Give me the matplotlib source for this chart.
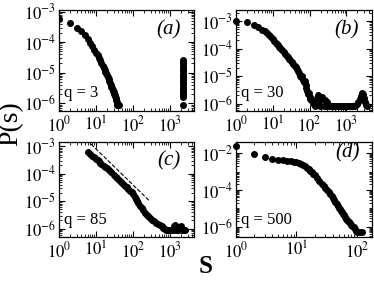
import numpy as np
import matplotlib
matplotlib.use('Agg')
import matplotlib.pyplot as plt
from matplotlib.ticker import FixedLocator, LogLocator, NullFormatter, FuncFormatter

plt.rcParams['font.family'] = 'serif'
plt.rcParams['font.serif'] = ['Liberation Serif', 'DejaVu Serif']
plt.rcParams['mathtext.fontset'] = 'stix'

# panel (a), q = 3
a_s = [1, 2, 3, 4, 5, 6, 7, 8, 9, 10, 11, 12, 13, 14, 15, 16, 17, 18, 19, 20,
       21, 22, 23, 24, 25, 26, 27, 28, 29, 30, 31, 32, 33, 34, 35, 36, 37, 38, 40, 42]
a_p = [5.5e-4, 4.1e-4, 3.0e-4, 2.25e-4, 1.7e-4, 1.25e-4, 9.3e-5, 7.2e-5, 5.7e-5, 4.5e-5,
       3.7e-5, 3.0e-5, 2.5e-5, 2.05e-5, 1.7e-5, 1.45e-5, 1.25e-5, 1.08e-5, 9.4e-6, 8.3e-6,
       7.4e-6, 6.4e-6, 5.5e-6, 4.7e-6, 4.0e-6, 3.5e-6, 3.1e-6, 2.8e-6, 2.5e-6, 2.25e-6,
       2.05e-6, 1.9e-6, 1.7e-6, 1.5e-6, 1.3e-6, 1.1e-6, 9.6e-7, 8.5e-7, 8.5e-7, 8.5e-7]
a_col_s = 2240
a_col_p = [2.6e-5, 2.2e-5, 1.85e-5, 1.55e-5, 1.3e-5, 1.1e-5, 9.3e-6, 7.9e-6, 6.7e-6, 5.7e-6,
           4.8e-6, 4.1e-6, 3.5e-6, 3.0e-6, 2.5e-6, 2.1e-6, 1.8e-6, 1.6e-6, 9e-7]

# panel (b), q = 30
b_s = [1, 2, 3, 4, 5, 6, 7, 8, 9, 10, 11, 12, 13, 14, 15, 16, 18, 20, 22, 24, 26, 28, 30,
       33, 36, 39, 42, 45, 48, 52, 56, 60, 63, 66, 70, 74, 78, 82, 86, 90, 95, 100, 105, 110,
       120, 130, 140, 155, 165, 175, 190, 205, 220, 240, 260, 280, 300, 330, 370, 410, 460,
       510, 570, 640, 710, 800, 890, 1000, 1120, 1250, 1400, 1550, 1700, 1900, 2100, 2300,
       2500, 2700, 2850, 3000, 3200, 3400, 3600]
b_p = [1.0e-3, 9.0e-4, 7.3e-4, 5.9e-4, 4.9e-4, 4.2e-4, 3.6e-4, 3.1e-4, 2.6e-4, 2.2e-4,
       1.9e-4, 1.65e-4, 1.45e-4, 1.3e-4, 1.15e-4, 1.05e-4, 8.8e-5, 7.5e-5, 6.6e-5, 5.6e-5,
       4.9e-5, 4.3e-5, 3.8e-5, 3.2e-5, 2.7e-5, 2.35e-5, 2.1e-5, 1.8e-5, 1.5e-5, 1.25e-5,
       1.0e-5, 9.0e-6, 1.05e-5, 7.5e-6, 6.0e-6, 6.5e-6, 4.6e-6, 3.6e-6, 3.0e-6, 2.3e-6,
       2.4e-6, 1.8e-6, 1.5e-6, 1.35e-6, 1.1e-6, 9.5e-7, 8.5e-7, 1.6e-6, 2.0e-6, 1.3e-6,
       8.5e-7, 1.6e-6, 1.8e-6, 8.5e-7, 1.4e-6, 8.5e-7, 1.2e-6, 8.5e-7, 8.5e-7, 8.5e-7,
       8.5e-7, 8.5e-7, 8.5e-7, 8.5e-7, 8.5e-7, 8.5e-7, 8.5e-7, 8.5e-7, 8.5e-7, 8.5e-7,
       8.5e-7, 8.5e-7, 8.5e-7, 1.0e-6, 1.2e-6, 1.5e-6, 1.9e-6, 2.4e-6, 2.2e-6, 1.6e-6,
       1.2e-6, 9e-7, 8.5e-7]

# panel (c), q = 85
c_s = [6, 7, 8, 9, 10, 11, 12, 13, 14, 16, 18, 20, 23, 26, 30, 34, 38, 43, 48, 54, 60, 67,
       75, 83, 92, 101, 110, 120, 130, 140, 155, 170, 190, 210, 235, 260, 290, 330, 370, 420,
       470, 530, 600, 660, 730, 800, 880, 970, 1070, 1180, 1300, 1400, 1500, 1650, 1800,
       1950, 2100, 2300, 2500]
c_p = [6.3e-4, 5.2e-4, 4.5e-4, 3.95e-4, 3.5e-4, 3.1e-4, 2.8e-4, 2.5e-4, 2.3e-4, 1.95e-4,
       1.75e-4, 1.6e-4, 1.32e-4, 1.12e-4, 9.3e-5, 7.9e-5, 6.8e-5, 5.8e-5, 4.9e-5, 4.2e-5,
       3.7e-5, 3.2e-5, 2.8e-5, 2.4e-5, 2.1e-5, 1.8e-5, 1.45e-5, 1.2e-5, 1.0e-5, 8.3e-6,
       6.8e-6, 5.7e-6, 4.6e-6, 3.8e-6, 3.2e-6, 2.8e-6, 2.5e-6, 2.1e-6, 1.85e-6, 1.65e-6,
       1.5e-6, 1.35e-6, 1.2e-6, 1.05e-6, 9.5e-7, 9e-7, 9e-7, 9e-7, 9e-7, 9e-7, 1.2e-6,
       1.3e-6, 9e-7, 9e-7, 1.15e-6, 1.2e-6, 9e-7, 9e-7, 9e-7]
c_guide_s = [5.6, 288]
c_guide_p = [1.7e-3, 9.8e-6]

# panel (d), q = 500
d_s = [1, 2, 3, 4, 5, 6, 7, 8, 9, 10, 11, 12, 13, 14, 15, 16, 17, 18, 19, 20, 22, 24, 26,
       28, 30, 32, 34, 36, 38, 40, 42, 44, 46, 48, 50, 52, 54, 56, 58, 60, 63, 66, 69, 72,
       75, 78, 81, 84, 88, 92, 96, 100, 106, 120]
d_p = [2.5e-2, 9.6e-3, 6.3e-3, 5.1e-3, 4.5e-3, 4.1e-3, 3.9e-3, 3.7e-3, 3.45e-3, 3.2e-3,
       2.9e-3, 2.6e-3, 2.25e-3, 1.95e-3, 1.65e-3, 1.4e-3, 1.15e-3, 9.5e-4, 7.8e-4, 6.4e-4,
       4.4e-4, 3.1e-4, 2.2e-4, 1.65e-4, 1.25e-4, 9.6e-5, 7.4e-5, 5.8e-5, 4.5e-5, 3.5e-5,
       2.7e-5, 2.1e-5, 1.7e-5, 1.35e-5, 1.1e-5, 9.0e-6, 7.4e-6, 6.2e-6, 5.2e-6, 4.4e-6,
       3.5e-6, 2.8e-6, 2.4e-6, 2.1e-6, 1.8e-6, 1.5e-6, 1.25e-6, 1.1e-6, 9.2e-7, 7.5e-7,
       6.2e-7, 5.2e-7, 4.9e-7, 4.9e-7]

fig = plt.figure(figsize=(3.74, 2.82), dpi=100)

ax_a = fig.add_axes([0.158, 0.606, 0.361, 0.360])
ax_b = fig.add_axes([0.631, 0.606, 0.364, 0.360])
ax_c = fig.add_axes([0.158, 0.160, 0.361, 0.337])
ax_d = fig.add_axes([0.631, 0.160, 0.364, 0.337])

pow_fmt = FuncFormatter(lambda v, pos: r'$10^{%d}$' % int(round(np.log10(v))))


def setup(ax, xlim, ylim, xticks, yticks, label, qtext):
    ax.set_xscale('log')
    ax.set_yscale('log')
    ax.set_xlim(xlim)
    ax.set_ylim(ylim)
    ax.xaxis.set_major_locator(FixedLocator(xticks))
    ax.yaxis.set_major_locator(FixedLocator(yticks))
    ax.xaxis.set_minor_locator(LogLocator(base=10, subs=np.arange(1, 10), numticks=50))
    ax.yaxis.set_minor_locator(LogLocator(base=10, subs=np.arange(1, 10), numticks=50))
    ax.xaxis.set_major_formatter(pow_fmt)
    ax.yaxis.set_major_formatter(pow_fmt)
    ax.xaxis.set_minor_formatter(NullFormatter())
    ax.yaxis.set_minor_formatter(NullFormatter())
    ax.tick_params(which='both', direction='in', top=True, right=True, labelsize=12)
    ax.tick_params(axis='x', which='major', pad=3)
    ax.tick_params(axis='y', which='major', pad=2)
    ax.tick_params(which='major', length=4, width=0.8)
    ax.tick_params(which='minor', length=2, width=0.6)
    for sp in ax.spines.values():
        sp.set_linewidth(0.9)
    ax.text(0.81, 0.80, label, transform=ax.transAxes, fontsize=15,
            style='italic', ha='center', va='center')
    ax.text(0.04, 0.18, qtext, transform=ax.transAxes, fontsize=12,
            ha='left', va='center')


mk = dict(marker='o', ms=4, ls='none', color='black')

ax_a.plot(a_s, a_p, **mk)
ax_a.plot([a_col_s] * len(a_col_p), a_col_p, clip_on=False, **mk)
setup(ax_a, (1, 4500), (5.5e-7, 1.16e-3), [1, 10, 100, 1000],
      [1e-6, 1e-5, 1e-4, 1e-3], '(a)', 'q = 3')

ax_b.plot(b_s, b_p, clip_on=False, **mk)
setup(ax_b, (1, 5000), (5.4e-7, 2.6e-3), [1, 10, 100, 1000],
      [1e-6, 1e-5, 1e-4, 1e-3], '(b)', 'q = 30')

ax_c.plot(c_s, c_p, **mk)
ax_c.plot(c_guide_s, c_guide_p, ls='--', color='black', lw=0.8)
setup(ax_c, (1, 4500), (5e-7, 1.45e-3), [1, 10, 100, 1000],
      [1e-6, 1e-5, 1e-4, 1e-3], '(c)', 'q = 85')

ax_d.plot(d_s, d_p, clip_on=False, **mk)
setup(ax_d, (1, 178), (2.8e-7, 0.042), [1, 10, 100],
      [1e-6, 1e-4, 1e-2], '(d)', 'q = 500')
ax_d.texts[0].set_position((0.82, 0.88))

fig.text(0.03, 0.56, 'P(s)', rotation=90, fontsize=20, ha='center', va='center')
fig.text(0.55, 0.055, 'S', fontsize=18, fontweight='bold', ha='center', va='center')

fig.savefig('out.png', dpi=100)
